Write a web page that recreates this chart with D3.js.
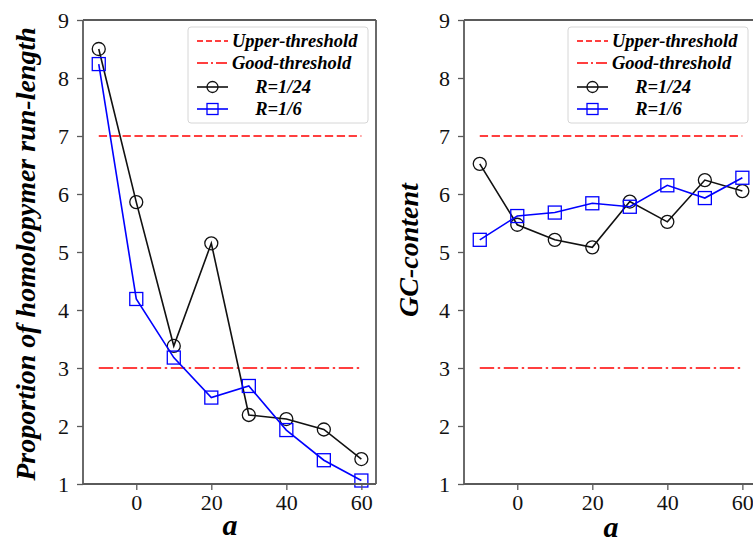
<!DOCTYPE html>
<html>
<head>
<meta charset="utf-8">
<script src="https://cdn.jsdelivr.net/npm/d3@7"></script>
<style>
  html, body { margin: 0; padding: 0; background: #fff; }
  svg { display: block; }
  text { font-family: "Liberation Serif", "DejaVu Serif", serif; }
</style>
</head>
<body>
<svg id="chart" width="753" height="542"></svg>
<script>
// Sampled values of a
const aValues = [-10, 0, 10, 20, 30, 40, 50, 60];

// Homopolymer run-length proportion
const homoR24 = [8.5, 5.86, 3.38, 5.15, 2.19, 2.12, 1.94, 1.43];
const homoR6  = [8.24, 4.19, 3.18, 2.49, 2.69, 1.93, 1.41, 1.06];

// GC-content
const gcR24 = [6.52, 5.47, 5.21, 5.08, 5.87, 5.52, 6.24, 6.05];
const gcR6  = [5.21, 5.62, 5.68, 5.84, 5.78, 6.15, 5.93, 6.28];

// Reference thresholds
const upperThreshold = 7;
const goodThreshold = 3;

const xTicks = [0, 20, 40, 60];
const yTicks = [1, 2, 3, 4, 5, 6, 7, 8, 9];

const legendLabels = ["Upper-threshold", "Good-threshold", "     R=1/24", "     R=1/6"];

const svg = d3.select("#chart");
const frameColor = "#5a5a5a";

function drawPanel(opts) {
  const { left, right, top, bottom, yLabel, yLabelX, xLabelY, s24, s6, showRightSpine } = opts;

  const x = d3.scaleLinear().domain([-14.2, 63.9]).range([left, right]);
  const y = d3.scaleLinear().domain([1, 9]).range([bottom, top]);

  const g = svg.append("g");

  // Threshold lines
  g.append("line")
    .attr("x1", x(aValues[0])).attr("x2", x(aValues[aValues.length - 1]))
    .attr("y1", y(upperThreshold)).attr("y2", y(upperThreshold))
    .attr("stroke", "#ff0000").attr("stroke-width", 1.6)
    .attr("stroke-dasharray", "8.3,3.6");
  g.append("line")
    .attr("x1", x(aValues[0])).attr("x2", x(aValues[aValues.length - 1]))
    .attr("y1", y(goodThreshold)).attr("y2", y(goodThreshold))
    .attr("stroke", "#ff0000").attr("stroke-width", 1.6)
    .attr("stroke-dasharray", "14.4,3.6,2.4,3.6");

  const line = d3.line().x((d, i) => x(aValues[i])).y(d => y(d));

  // R=1/24 series: black with open circles
  g.append("path").datum(s24)
    .attr("d", line).attr("fill", "none")
    .attr("stroke", "#111").attr("stroke-width", 1.6);
  g.selectAll(".c").data(s24).enter().append("circle")
    .attr("cx", (d, i) => x(aValues[i])).attr("cy", d => y(d))
    .attr("r", 6.5).attr("fill", "none")
    .attr("stroke", "#111").attr("stroke-width", 1.3);

  // R=1/6 series: blue with open squares
  g.append("path").datum(s6)
    .attr("d", line).attr("fill", "none")
    .attr("stroke", "#0000ff").attr("stroke-width", 1.6);
  g.selectAll(".s").data(s6).enter().append("rect")
    .attr("x", (d, i) => x(aValues[i]) - 6.5).attr("y", d => y(d) - 6.5)
    .attr("width", 13).attr("height", 13).attr("fill", "none")
    .attr("stroke", "#0000ff").attr("stroke-width", 1.3);

  // Frame
  const frame = g.append("g").attr("stroke", frameColor).attr("stroke-width", 1.8).attr("fill", "none");
  frame.append("line").attr("x1", left).attr("x2", left).attr("y1", top).attr("y2", bottom);
  frame.append("line").attr("x1", left).attr("x2", right).attr("y1", top).attr("y2", top);
  frame.append("line").attr("x1", left).attr("x2", right).attr("y1", bottom).attr("y2", bottom);
  if (showRightSpine) {
    frame.append("line").attr("x1", right).attr("x2", right).attr("y1", top).attr("y2", bottom);
  }

  // Axes
  const xAxis = d3.axisBottom(x).tickValues(xTicks).tickSize(6).tickPadding(4).tickFormat(d3.format("d"));
  const yAxis = d3.axisLeft(y).tickValues(yTicks).tickSize(6).tickPadding(8).tickFormat(d3.format("d"));

  const gx = g.append("g").attr("transform", `translate(0,${bottom})`).call(xAxis);
  const gy = g.append("g").attr("transform", `translate(${left},0)`).call(yAxis);
  [gx, gy].forEach(a => {
    a.select(".domain").remove();
    a.selectAll(".tick line").attr("stroke", frameColor).attr("stroke-width", 1.3);
    a.selectAll(".tick text")
      .attr("fill", "#111")
      .style("font-family", "'Liberation Serif', serif")
      .style("font-size", "22px");
  });

  // Axis titles
  g.append("text")
    .attr("transform", `translate(${yLabelX},${opts.yLabelCY}) rotate(-90)`)
    .attr("text-anchor", "middle")
    .style("font-size", "28px").style("font-weight", "bold").style("font-style", "italic")
    .attr("fill", "#000")
    .text(yLabel);
  g.append("text")
    .attr("x", x(25)).attr("y", xLabelY)
    .attr("text-anchor", "middle")
    .style("font-size", "30px").style("font-weight", "bold").style("font-style", "italic")
    .attr("fill", "#000")
    .text("a");

  // Legend
  const lx = opts.legendX, ly = 27, lw = opts.legendW, lh = 96;
  const leg = g.append("g");
  leg.append("rect")
    .attr("x", lx).attr("y", ly).attr("width", lw).attr("height", lh)
    .attr("rx", 3).attr("fill", "#fff").attr("fill-opacity", 0.85)
    .attr("stroke", "#d6d6d6").attr("stroke-width", 1);
  const rowY = [41, 63, 87, 109];
  const styles = [
    { color: "#ff0000", dash: "6,3", marker: null },
    { color: "#ff0000", dash: "11,3,2,3", marker: null },
    { color: "#111", dash: null, marker: "circle" },
    { color: "#0000ff", dash: null, marker: "square" }
  ];
  legendLabels.forEach((lab, i) => {
    const st = styles[i];
    const yy = rowY[i];
    const x0 = lx + 9, x1 = lx + 40;
    leg.append("line")
      .attr("x1", x0).attr("x2", x1).attr("y1", yy).attr("y2", yy)
      .attr("stroke", st.color).attr("stroke-width", 1.6)
      .attr("stroke-dasharray", st.dash);
    const cx = (x0 + x1) / 2;
    if (st.marker === "circle") {
      leg.append("circle").attr("cx", cx).attr("cy", yy).attr("r", 5.5)
        .attr("fill", "none").attr("stroke", st.color).attr("stroke-width", 1.3);
    } else if (st.marker === "square") {
      leg.append("rect").attr("x", cx - 5.5).attr("y", yy - 5.5).attr("width", 11).attr("height", 11)
        .attr("fill", "none").attr("stroke", st.color).attr("stroke-width", 1.3);
    }
    leg.append("text")
      .attr("x", lx + 44).attr("y", yy + 6)
      .style("white-space", "pre")
      .style("font-size", "18.5px").style("font-weight", "bold").style("font-style", "italic")
      .attr("fill", "#000")
      .text(lab);
  });
}

drawPanel({
  left: 83, right: 376, top: 20, bottom: 484,
  yLabel: "Proportion of homolopymer run-length", yLabelX: 35, yLabelCY: 254, xLabelY: 535,
  s24: homoR24, s6: homoR6, showRightSpine: true,
  legendX: 188, legendW: 180
});

drawPanel({
  left: 464, right: 757, top: 20, bottom: 484,
  yLabel: "GC-content", yLabelX: 418, yLabelCY: 250, xLabelY: 537,
  s24: gcR24, s6: gcR6, showRightSpine: false,
  legendX: 568, legendW: 180
});
</script>
</body>
</html>
